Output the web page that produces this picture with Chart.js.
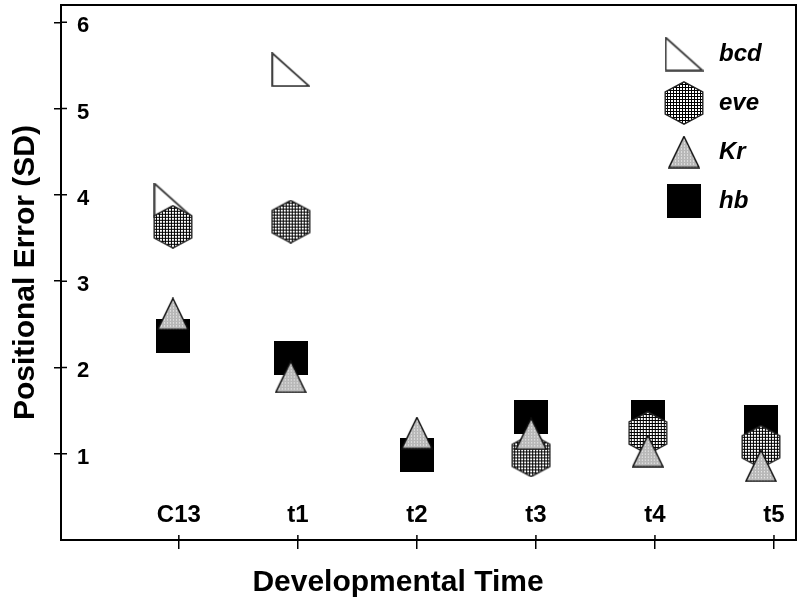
<!DOCTYPE html>
<html>
<head>
<meta charset="utf-8">
<script src="https://cdn.jsdelivr.net/npm/chart.js@4.4.1/dist/chart.umd.min.js"></script>
<style>
  html, body { margin: 0; padding: 0; background: #fff; }
  #wrap { width: 800px; height: 607px; }
</style>
</head>
<body>
<div id="wrap"><canvas id="ch-poserr"></canvas></div>
<script>
// Positional error (SD) of four gap genes over developmental time.
const TIMES = ["C13", "t1", "t2", "t3", "t4", "t5"];
const TIME_X = [-0.05, 0.94, 2.0, 2.96, 3.94, 4.89]; // where the markers sit on each time tick
const BCD = [3.94, 5.45, null, null, null, null];
const EVE = [3.63, 3.69, null, 0.98, 1.24, 1.08];
const KR  = [2.62, 1.89, 1.24, 1.23, 1.03, 0.86];
const HB  = [2.36, 2.11, 0.99, 1.42, 1.43, 1.37];
const Y_TICKS = [1, 2, 3, 4, 5, 6];

const FONT = '"Liberation Sans", Arial, Helvetica, sans-serif';

function tile(size, paint) {
  const c = document.createElement("canvas");
  c.width = c.height = size;
  paint(c.getContext("2d"));
  return c;
}
const gridTile = tile(3, (g) => {
  g.fillStyle = "#fff"; g.fillRect(0, 0, 3, 3);
  g.fillStyle = "#000"; g.fillRect(0, 0, 3, 1); g.fillRect(0, 0, 1, 3);
});
const dotTile = tile(3, (g) => {
  g.fillStyle = "#b8b8b8"; g.fillRect(0, 0, 3, 3);
  g.fillStyle = "#fff"; g.fillRect(1, 1, 1, 1);
});

function marker(w, h, pts, fill, stroke, lw) {
  const c = document.createElement("canvas");
  c.width = w; c.height = h;
  const g = c.getContext("2d");
  g.beginPath();
  pts.forEach((p, i) => (i ? g.lineTo(p[0] * w, p[1] * h) : g.moveTo(p[0] * w, p[1] * h)));
  g.closePath();
  g.fillStyle = typeof fill === "string" ? fill : g.createPattern(fill, "repeat");
  g.fill();
  g.lineWidth = lw; g.strokeStyle = stroke; g.stroke();
  return c;
}
const mBcd = marker(39, 35, [[0.03, 0.03], [0.03, 0.97], [0.97, 0.97]], "#fff", "#333", 1.8);
const mEve = marker(40, 44, [[0.5, 0.02], [0.97, 0.25], [0.97, 0.75], [0.5, 0.98], [0.03, 0.75], [0.03, 0.25]], gridTile, "#222", 1.4);
const mKr  = marker(32, 33, [[0.5, 0.03], [0.97, 0.97], [0.03, 0.97]], dotTile, "#111", 1.5);
const mHb  = marker(34, 34, [[0, 0], [1, 0], [1, 1], [0, 1]], "#000", "#000", 1);

function pts(vals) {
  return vals.map((v, i) => ({ x: TIME_X[i], y: v })).filter((p) => p.y != null);
}

const framePlugin = {
  id: "frame",
  beforeDatasetsDraw(chart) {
    const { ctx, chartArea: a, scales: { x, y } } = chart;
    ctx.save();
    ctx.strokeStyle = "#000";
    ctx.lineWidth = 2;
    ctx.strokeRect(a.left, a.top, a.right - a.left, a.bottom - a.top);
    ctx.lineWidth = 1.5;
    ctx.beginPath();
    y.ticks.forEach((t) => { const p = y.getPixelForValue(t.value); ctx.moveTo(a.left, p); ctx.lineTo(a.left + 6, p); });
    x.ticks.forEach((t) => { const p = x.getPixelForValue(t.value); ctx.moveTo(p, a.bottom); ctx.lineTo(p, a.bottom - 5); });
    ctx.stroke();
    ctx.restore();
  }
};

const legendPlugin = {
  id: "stackLegend",
  afterDraw(chart) {
    const ctx = chart.ctx;
    ctx.save();
    ctx.font = "italic bold 24px " + FONT;
    ctx.textBaseline = "middle";
    ctx.fillStyle = "#000";
    chart.data.datasets.forEach((ds, i) => {
      const cy = 54 + i * 49;
      const img = ds.pointStyle;
      ctx.drawImage(img, 684 - img.width / 2, cy - img.height / 2);
      ctx.fillText(ds.label, 719, cy);
    });
    ctx.restore();
  }
};

new Chart(document.getElementById("ch-poserr"), {
  type: "scatter",
  data: {
    datasets: [
      { label: "bcd", data: pts(BCD), pointStyle: mBcd, pointRadius: 15, order: 3 },
      { label: "eve", data: pts(EVE), pointStyle: mEve, pointRadius: 15, order: 1 },
      { label: "Kr",  data: pts(KR),  pointStyle: mKr,  pointRadius: 15, order: 0 },
      { label: "hb",  data: pts(HB),  pointStyle: mHb,  pointRadius: 15, order: 2 }
    ]
  },
  options: {
    responsive: true, maintainAspectRatio: false, animation: false,
    layout: { autoPadding: false, padding: { top: 5, right: 4, left: 0, bottom: 0 } },
    plugins: {
      legend: { display: false },
      tooltip: { enabled: false },
      title: {
        display: true, position: "bottom", text: "Developmental Time", color: "#000",
        font: { family: FONT, size: 30, weight: "bold", lineHeight: 1.2 }, padding: { top: 0, bottom: 6 }
      }
    },
    scales: {
      x: {
        type: "linear", position: "bottom", min: -0.99, max: 5.185,
        afterBuildTicks: (s) => { s.ticks = TIMES.map((_, i) => ({ value: i })); },
        afterFit: (s) => { s.height = 25; s.paddingLeft = 0; s.paddingRight = 0; },
        ticks: {
          mirror: true, padding: 10, autoSkip: false, maxRotation: 0,
          callback: (v) => TIMES[v] ?? "",
          color: "#000", font: { family: FONT, size: 24, weight: "bold" }
        },
        grid: { drawOnChartArea: false, drawTicks: true, tickLength: 9, color: "#000", lineWidth: 1.5 },
        border: { color: "#000", width: 2 }
      },
      y: {
        type: "linear", position: "left", min: 0, max: 6.2,
        afterBuildTicks: (s) => { s.ticks = Y_TICKS.map((v) => ({ value: v })); },
        afterFit: (s) => { s.width = 61; s.paddingTop = 0; s.paddingBottom = 0; },
        ticks: { mirror: true, padding: 16, labelOffset: 4, color: "#000", font: { family: FONT, size: 22, weight: "bold" } },
        grid: { drawOnChartArea: false, drawTicks: true, tickLength: 7, color: "#000", lineWidth: 1.5 },
        border: { color: "#000", width: 2 },
        title: { display: true, text: "Positional Error (SD)", color: "#000",
                 font: { family: FONT, size: 30, weight: "bold" }, padding: { top: 8, bottom: 0 } }
      }
    }
  },
  plugins: [framePlugin, legendPlugin]
});
</script>
</body>
</html>
